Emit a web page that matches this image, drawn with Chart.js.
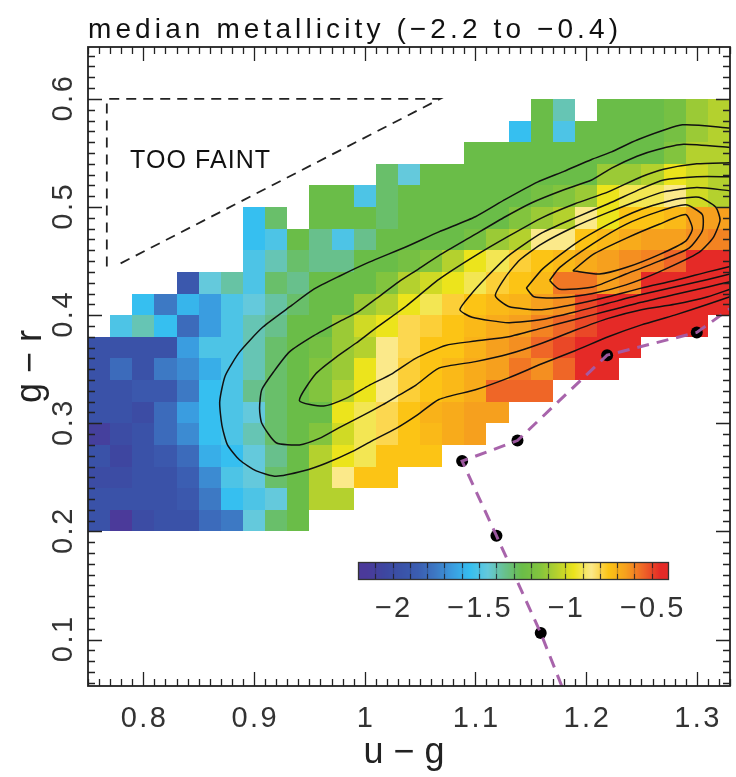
<!DOCTYPE html>
<html>
<head>
<meta charset="utf-8">
<title>median metallicity</title>
<script src="https://cdn.jsdelivr.net/npm/chart.js@4.4.1/dist/chart.umd.min.js"></script>
<style>
  html, body { margin: 0; padding: 0; background: #fff; }
  canvas { display: block; }
</style>
</head>
<body>
<canvas id="chart" width="736" height="777"></canvas>
<script>
const _ = null;

// axis ticks
const uTicks = [0.8, 0.9, 1.0, 1.1, 1.2, 1.3];
const uTickLabels = ['0.8', '0.9', '1', '1.1', '1.2', '1.3'];
const grTicks = [0.1, 0.2, 0.3, 0.4, 0.5, 0.6];
const grTickLabels = ['0.1', '0.2', '0.3', '0.4', '0.5', '0.6'];

// colour bar: [Fe/H] bins and their colours
const feEdges = [-2.2, -2.1, -2.0, -1.9, -1.8, -1.7, -1.6, -1.5, -1.4, -1.3, -1.2, -1.1, -1.0, -0.9, -0.8, -0.7, -0.6, -0.5, -0.4];
const feColors = ['#4b3a9a', '#3e46a0', '#3a52a8', '#3b5eb2', '#3d79c4', '#3a9de0', '#36bff0', '#64c9dc', '#68c08c',
                  '#6abd48', '#82c43e', '#b4d12e', '#ece41c', '#fbe98a', '#fcc415', '#f6a01e', '#ef6627', '#e52a27'];
const cbTicks = [-2, -1.5, -1, -0.5];
const cbTickLabels = ['\u22122', '\u22121.5', '\u22121', '\u22120.5'];

// heatmap cells: left edge (u-g) of each column, bottom edge (g-r) of each row
const cellU = [0.75, 0.77, 0.79, 0.81, 0.83, 0.85, 0.87, 0.89, 0.91, 0.93, 0.95, 0.97, 0.99, 1.01, 1.03,
               1.05, 1.07, 1.09, 1.11, 1.13, 1.15, 1.17, 1.19, 1.21, 1.23, 1.25, 1.27, 1.29, 1.31];
const cellG = [0.20, 0.22, 0.24, 0.26, 0.28, 0.30, 0.32, 0.34, 0.36, 0.38,
               0.40, 0.42, 0.44, 0.46, 0.48, 0.50, 0.52, 0.54, 0.56, 0.58];
// median [Fe/H] per cell, rows from g-r = 0.20 upwards
const feGrid = [
  [-1.95,-2.15,-2.0,-1.95,-1.95,-1.8,-1.75,-1.45,-1.3,-1.25, _,_,_,_,_,_,_,_,_,_,_,_,_,_,_,_,_,_,_],
  [-1.95,-1.95,-1.95,-1.95,-1.9,-1.75,-1.55,-1.5,-1.45,-1.25,-1.05,-1.05, _,_,_,_,_,_,_,_,_,_,_,_,_,_,_,_,_],
  [-2.0,-2.0,-1.95,-1.95,-1.85,-1.7,-1.5,-1.45,-1.3,-1.25,-1.05,-0.85,-0.75,-0.75, _,_,_,_,_,_,_,_,_,_,_,_,_,_,_],
  [-1.95,-2.05,-1.95,-1.9,-1.8,-1.6,-1.55,-1.45,-1.35,-1.25,-1.05,-0.95,-0.9,-0.75,-0.75,-0.75, _,_,_,_,_,_,_,_,_,_,_,_,_],
  [-2.1,-2.0,-1.95,-1.8,-1.7,-1.55,-1.5,-1.4,-1.3,-1.25,-1.15,-1.0,-0.9,-0.8,-0.75,-0.72,-0.68,-0.65, _,_,_,_,_,_,_,_,_,_,_],
  [-1.95,-1.95,-2.0,-1.8,-1.65,-1.55,-1.5,-1.45,-1.3,-1.25,-1.25,-0.95,-0.9,-0.8,-0.75,-0.7,-0.68,-0.65,-0.65, _,_,_,_,_,_,_,_,_,_],
  [-1.95,-1.95,-1.9,-1.9,-1.75,-1.55,-1.5,-1.35,-1.3,-1.25,-1.15,-1.05,-0.95,-0.85,-0.78,-0.75,-0.72,-0.68,-0.55,-0.55,-0.55, _,_,_,_,_,_,_,_],
  [-1.95,-1.8,-1.95,-1.75,-1.7,-1.6,-1.5,-1.4,-1.3,-1.25,-1.15,-1.1,-0.95,-0.85,-0.78,-0.75,-0.72,-0.68,-0.65,-0.58,-0.62,-0.55,-0.45,-0.45, _,_,_,_,_],
  [-1.95,-1.95,-1.95,-1.95,-1.65,-1.5,-1.5,-1.4,-1.3,-1.25,-1.2,-1.1,-1.05,-0.85,-0.8,-0.75,-0.75,-0.7,-0.65,-0.62,-0.55,-0.5,-0.45,-0.45,-0.45, _,_,_,_],
  [_,-1.5,-1.4,-1.55,-1.8,-1.65,-1.5,-1.4,-1.35,-1.25,-1.25,-1.1,-1.0,-0.95,-0.8,-0.78,-0.75,-0.72,-0.68,-0.65,-0.6,-0.55,-0.5,-0.45,-0.45,-0.45,-0.45,-0.45, _],
  [_,_,-1.55,-1.75,-1.58,-1.65,-1.5,-1.45,-1.38,-1.3,-1.25,-1.25,-1.1,-1.05,-0.95,-0.9,-0.78,-0.75,-0.72,-0.7,-0.65,-0.62,-0.5,-0.45,-0.45,-0.45,-0.45,-0.45,-0.45],
  [_,_,_,_,-1.9,-1.45,-1.38,-1.5,-1.3,-1.35,-1.25,-1.25,-1.25,-1.15,-1.05,-1.0,-0.95,-0.9,-0.78,-0.75,-0.72,-0.58,-0.58,-0.65,-0.62,-0.45,-0.45,-0.45,-0.45],
  [_,_,_,_,_,_,_,-1.5,-1.4,-1.3,-1.35,-1.35,-1.25,-1.25,-1.2,-1.15,-1.05,-0.95,-0.9,-0.78,-0.75,-0.72,-0.68,-0.65,-0.62,-0.6,-0.55,-0.45,-0.45],
  [_,_,_,_,_,_,_,-1.55,-1.5,-1.25,-1.35,-1.5,-1.35,-1.25,-1.25,-1.25,-1.25,-1.2,-1.1,-1.05,-0.85,-0.85,-0.75,-0.72,-0.68,-0.65,-0.65,-0.62,-0.6],
  [_,_,_,_,_,_,_,-1.55,-1.3,_,-1.25,-1.25,-1.25,-1.3,-1.25,-1.25,-1.25,-1.25,-1.25,-1.15,-1.1,-1.05,-0.85,-0.95,-0.75,-0.75,-0.72,-0.65,-0.65],
  [_,_,_,_,_,_,_,_,_,_,-1.25,-1.25,-1.5,-1.3,-1.25,-1.25,-1.25,-1.25,-1.25,-1.25,-1.2,-1.15,-1.1,-0.95,-0.9,-0.9,-0.85,-1.0,-1.05],
  [_,_,_,_,_,_,_,_,_,_,_,_,_,-1.3,-1.45,-1.25,-1.25,-1.25,-1.25,-1.25,-1.25,-1.25,-1.25,-1.1,-1.1,-1.05,-0.95,-1.0,-1.05],
  [_,_,_,_,_,_,_,_,_,_,_,_,_,_,_,_,_,-1.25,-1.25,-1.25,-1.25,-1.25,-1.25,-1.25,-1.25,-1.25,-1.15,-1.05,-1.05],
  [_,_,_,_,_,_,_,_,_,_,_,_,_,_,_,_,_,_,_,-1.55,-1.25,-1.5,-1.25,-1.25,-1.25,-1.25,-1.2,-1.1,-1.05],
  [_,_,_,_,_,_,_,_,_,_,_,_,_,_,_,_,_,_,_,_,-1.25,-1.4,_,-1.25,-1.25,-1.25,-1.2,-1.1,-1.05]
];

// number-density contours, [u-g, g-r], outermost first
const contour1 = [[1.33,0.573],[1.287,0.576],[1.246,0.562],[1.223,0.551],[1.205,0.544],[1.180,0.533],[1.156,0.523],[1.127,0.507],
  [1.100,0.491],[1.067,0.477],[1.037,0.463],[1.004,0.449],[0.977,0.436],[0.954,0.424],[0.934,0.409],[0.908,0.389],[0.887,0.366],
  [0.874,0.344],[0.869,0.320],[0.871,0.298],[0.876,0.280],[0.887,0.266],[0.902,0.256],[0.920,0.251],[0.945,0.256],[0.965,0.263],
  [0.989,0.274],[1.007,0.284],[1.028,0.295],[1.048,0.308],[1.067,0.322],[1.100,0.331],[1.130,0.342],[1.160,0.355],[1.190,0.367],
  [1.220,0.380],[1.250,0.391],[1.280,0.400],[1.310,0.410],[1.33,0.417]];
const contour2 = [[1.33,0.555],[1.288,0.558],[1.264,0.553],[1.246,0.547],[1.223,0.536],[1.205,0.525],[1.180,0.516],[1.151,0.504],
  [1.127,0.491],[1.097,0.473],[1.067,0.455],[1.046,0.441],[1.031,0.431],[1.010,0.415],[0.994,0.403],[0.977,0.394],[0.954,0.381],
  [0.932,0.366],[0.918,0.348],[0.907,0.331],[0.905,0.314],[0.907,0.300],[0.920,0.282],[0.941,0.280],[0.959,0.286],[0.977,0.296],
  [0.998,0.307],[1.016,0.317],[1.031,0.326],[1.046,0.335],[1.067,0.351],[1.100,0.357],[1.130,0.364],[1.160,0.374],[1.190,0.386],
  [1.220,0.397],[1.250,0.405],[1.280,0.410],[1.310,0.417],[1.33,0.424]];
const contour3 = [[1.33,0.541],[1.30,0.540],[1.27,0.535],[1.25,0.528],[1.22,0.514],[1.19,0.503],[1.16,0.490],[1.13,0.473],
  [1.10,0.455],[1.067,0.433],[1.037,0.408],[1.010,0.388],[0.992,0.374],[0.974,0.361],[0.956,0.346],[0.941,0.321],[0.963,0.316],
  [0.983,0.323],[1.004,0.335],[1.025,0.346],[1.046,0.360],[1.073,0.372],[1.10,0.376],[1.13,0.380],[1.16,0.388],[1.19,0.396],
  [1.22,0.404],[1.25,0.412],[1.28,0.419],[1.31,0.426],[1.33,0.431]];
const contour4 = [[1.33,0.528],[1.30,0.528],[1.27,0.525],[1.25,0.517],[1.22,0.503],[1.19,0.490],[1.16,0.476],[1.13,0.455],
  [1.11,0.435],[1.095,0.418],[1.086,0.405],[1.097,0.398],[1.13,0.393],[1.16,0.396],[1.19,0.403],[1.22,0.411],[1.25,0.419],
  [1.28,0.426],[1.31,0.433],[1.33,0.438]];
const contour5 = [[1.33,0.515],[1.30,0.518],[1.27,0.514],[1.25,0.507],[1.22,0.495],[1.19,0.482],[1.16,0.466],[1.14,0.451],
  [1.127,0.435],[1.118,0.418],[1.13,0.408],[1.16,0.405],[1.19,0.410],[1.22,0.417],[1.25,0.425],[1.28,0.432],[1.31,0.440],[1.33,0.445]];
const contour6 = [[1.146,0.425],[1.161,0.443],[1.19,0.466],[1.22,0.484],[1.25,0.498],[1.28,0.507],[1.302,0.509],[1.317,0.500],
  [1.321,0.488],[1.315,0.472],[1.302,0.458],[1.266,0.440],[1.236,0.428],[1.206,0.420],[1.176,0.416],[1.153,0.417],[1.146,0.425]];
const contour7 = [[1.167,0.432],[1.176,0.444],[1.206,0.466],[1.236,0.484],[1.266,0.496],[1.29,0.502],[1.305,0.493],[1.305,0.478],
  [1.293,0.462],[1.266,0.450],[1.236,0.438],[1.206,0.426],[1.176,0.424],[1.167,0.432]];
const contour8 = [[1.188,0.441],[1.206,0.456],[1.236,0.471],[1.266,0.484],[1.29,0.493],[1.296,0.480],[1.29,0.4685],[1.266,0.456],
  [1.236,0.444],[1.212,0.438],[1.188,0.441]];
const contours = [contour1, contour2, contour3, contour4, contour5, contour6, contour7, contour8];

// dashed purple locus and its black points
const locusU = [1.178, 1.159, 1.119, 1.088, 1.138, 1.219, 1.300, 1.33];
const locusG = [0.057, 0.106, 0.196, 0.265, 0.284, 0.363, 0.384, 0.406];
const dotU = [1.088, 1.138, 1.219, 1.300, 1.119, 1.159];
const dotG = [0.265, 0.284, 0.363, 0.384, 0.196, 0.106];

// "too faint" region outline
const faintU = [0.767, 0.767, 1.068, 0.774];
const faintG = [0.445, 0.600, 0.600, 0.445];

const FONT = '"Liberation Sans", Arial, Helvetica, sans-serif';

function hexRgb(h) {
  const n = parseInt(h.slice(1), 16);
  return [(n >> 16) & 255, (n >> 8) & 255, n & 255];
}
function feColor(v) {
  const w = feEdges[1] - feEdges[0];
  const t = Math.min(Math.max((v - feEdges[0]) / w - 0.5, 0), feColors.length - 1);
  const i = Math.min(Math.floor(t), feColors.length - 2), f = t - i;
  const a = hexRgb(feColors[i]), b = hexRgb(feColors[i + 1]);
  return 'rgb(' + a.map((c, k) => Math.round(c + (b[k] - c) * f)).join(',') + ')';
}

function drawText(ctx, str, x, y, o) {
  ctx.save();
  ctx.font = o.font;
  ctx.fillStyle = o.color || '#222';
  ctx.textAlign = o.align || 'center';
  ctx.textBaseline = o.baseline || 'middle';
  let sp = o.spacing || 0;
  if (o.width) {
    ctx.letterSpacing = '0px';
    sp = (o.width - ctx.measureText(str).width) / Math.max(1, str.length - 1);
  }
  ctx.letterSpacing = sp + 'px';
  ctx.translate(x, y);
  if (o.rotate) ctx.rotate(o.rotate);
  ctx.fillText(str, ctx.textAlign === 'center' ? sp / 2 : 0, 0);
  ctx.restore();
}

const heatmapPlugin = {
  id: 'heatmap',
  beforeDatasetsDraw(chart) {
    const { ctx, scales: { x, y } } = chart;
    const dw = cellU[1] - cellU[0], dh = cellG[1] - cellG[0];
    ctx.save();
    feGrid.forEach((row, j) => row.forEach((v, i) => {
      if (v === null) return;
      const x0 = Math.round(x.getPixelForValue(cellU[i]));
      const x1 = Math.round(x.getPixelForValue(cellU[i] + dw));
      const y0 = Math.round(y.getPixelForValue(cellG[j] + dh));
      const y1 = Math.round(y.getPixelForValue(cellG[j]));
      ctx.fillStyle = feColor(v);
      ctx.fillRect(x0, y0, x1 - x0, y1 - y0);
    }));
    ctx.restore();
  }
};

// colour bar placed inside the plot, in data units
const cbBox = { u0: 0.9938, u1: 1.2753, g0: 0.1549, g1: 0.1716 };

const colorbarPlugin = {
  id: 'colorbar',
  afterDatasetsDraw(chart) {
    const { ctx, scales: { x, y } } = chart;
    const xa = Math.round(x.getPixelForValue(cbBox.u0)), xb = Math.round(x.getPixelForValue(cbBox.u1));
    const ya = Math.round(y.getPixelForValue(cbBox.g1)), yb = Math.round(y.getPixelForValue(cbBox.g0));
    const lo = feEdges[0], hi = feEdges[feEdges.length - 1];
    ctx.save();
    for (let px = xa; px < xb; px++) {
      ctx.fillStyle = feColor(lo + (px + 0.5 - xa) / (xb - xa) * (hi - lo));
      ctx.fillRect(px, ya, 1, yb - ya);
    }
    ctx.strokeStyle = 'rgba(30,30,40,0.85)';
    ctx.lineWidth = 1.2;
    feEdges.slice(1, -1).forEach(v => {
      const px = Math.round(xa + (v - lo) / (hi - lo) * (xb - xa)) + 0.5;
      ctx.beginPath();
      ctx.moveTo(px, ya); ctx.lineTo(px, ya + 6);
      ctx.moveTo(px, yb); ctx.lineTo(px, yb - 6);
      ctx.stroke();
    });
    ctx.strokeStyle = 'rgba(30,30,40,0.25)';
    feEdges.slice(1, -1).forEach(v => {
      const px = Math.round(xa + (v - lo) / (hi - lo) * (xb - xa)) + 0.5;
      ctx.beginPath(); ctx.moveTo(px, ya + 6); ctx.lineTo(px, yb - 6); ctx.stroke();
    });
    ctx.strokeStyle = '#333';
    ctx.lineWidth = 1.3;
    ctx.strokeRect(xa + 0.5, ya + 0.5, xb - xa - 1, yb - ya - 1);
    cbTicks.forEach((v, i) => {
      const px = xa + (v - lo) / (hi - lo) * (xb - xa);
      drawText(ctx, cbTickLabels[i], px, yb + 29, { font: '29px ' + FONT, color: '#333', spacing: 2 });
    });
    ctx.restore();
  }
};

const framePlugin = {
  id: 'frame',
  afterDraw(chart) {
    const { ctx, chartArea: a, scales: { x, y } } = chart;
    ctx.save();
    ctx.strokeStyle = '#222';
    ctx.lineWidth = 1.3;
    ctx.beginPath();
    for (let k = Math.ceil(x.min * 100); k <= Math.floor(x.max * 100); k++) {
      const px = Math.round(x.getPixelForValue(k / 100)) + 0.5;
      const len = k % 10 === 0 ? 14 : 7;
      ctx.moveTo(px, a.bottom); ctx.lineTo(px, a.bottom - len);
      ctx.moveTo(px, a.top); ctx.lineTo(px, a.top + len);
    }
    for (let k = Math.ceil(y.min * 100); k <= Math.floor(y.max * 100); k++) {
      const py = Math.round(y.getPixelForValue(k / 100)) + 0.5;
      const len = k % 10 === 0 ? 14 : 7;
      ctx.moveTo(a.left, py); ctx.lineTo(a.left + len, py);
      ctx.moveTo(a.right, py); ctx.lineTo(a.right - len, py);
    }
    ctx.stroke();
    ctx.lineWidth = 1.8;
    ctx.strokeRect(a.left, a.top, a.right - a.left, a.bottom - a.top);

    uTicks.forEach((v, i) => drawText(ctx, uTickLabels[i], x.getPixelForValue(v), a.bottom + 33,
      { font: '29px ' + FONT, color: '#333', spacing: 2.5 }));
    grTicks.forEach((v, i) => drawText(ctx, grTickLabels[i], a.left - 24, y.getPixelForValue(v),
      { font: '29px ' + FONT, color: '#333', spacing: 2.5, rotate: -Math.PI / 2 }));

    drawText(ctx, 'median metallicity (\u22122.2 to \u22120.4)', a.left, 38,
      { font: '28px ' + FONT, color: '#111', align: 'left', baseline: 'alphabetic', width: 530 });
    drawText(ctx, 'u \u2212 g', a.left + 316, 763,
      { font: '36px ' + FONT, color: '#222', baseline: 'alphabetic' });
    drawText(ctx, 'g \u2212 r', 41, (a.top + a.bottom) / 2,
      { font: '36px ' + FONT, color: '#222', baseline: 'alphabetic', rotate: -Math.PI / 2 });
    drawText(ctx, 'TOO FAINT', x.getPixelForValue(0.788), y.getPixelForValue(0.542),
      { font: '25px ' + FONT, color: '#111', align: 'left', width: 140 });
    ctx.restore();
  }
};

const pts = (us, gs) => us.map((u, i) => ({ x: u, y: gs[i] }));
const contourSets = contours.map(c => ({
  data: c.map(([u, g]) => ({ x: u, y: g })),
  showLine: true, borderColor: '#111', borderWidth: 1.5, pointRadius: 0, fill: false, tension: 0.2
}));

new Chart(document.getElementById('chart'), {
  type: 'scatter',
  data: {
    datasets: [
      ...contourSets,
      { data: pts(faintU, faintG), showLine: true, borderColor: '#222', borderWidth: 1.8, borderDash: [10, 7],
        pointRadius: 0, fill: false, tension: 0 },
      { data: pts(locusU, locusG), showLine: true, borderColor: 'rgba(163,92,166,0.95)', borderWidth: 3,
        borderDash: [12, 8], pointRadius: 0, fill: false, tension: 0 },
      { data: pts(dotU, dotG), showLine: false, pointRadius: 6, pointBackgroundColor: '#000',
        pointBorderColor: '#000', pointBorderWidth: 0 }
    ]
  },
  options: {
    responsive: false,
    animation: false,
    devicePixelRatio: 1,
    events: [],
    layout: { padding: { left: 88, right: 1, top: 47, bottom: 91 } },
    scales: {
      x: { type: 'linear', min: 0.75, max: 1.33, display: false },
      y: { type: 'linear', min: 0.057, max: 0.648, display: false }
    },
    plugins: { legend: { display: false }, tooltip: { enabled: false } }
  },
  plugins: [heatmapPlugin, colorbarPlugin, framePlugin]
});
</script>
</body>
</html>
